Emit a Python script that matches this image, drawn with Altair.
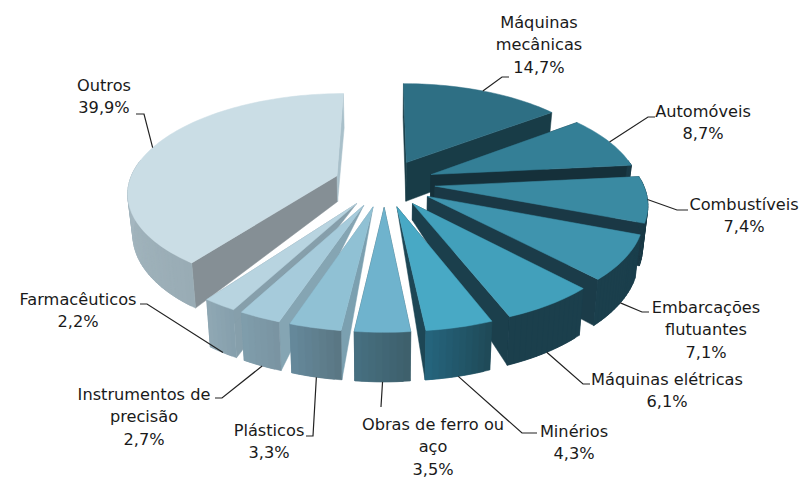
import math
import altair as alt
import pandas as pd

# ---- values ----
names = ["Máquinas mecânicas", "Automóveis", "Combustíveis", "Embarcações flutuantes",
         "Máquinas elétricas", "Minérios", "Obras de ferro ou aço", "Plásticos",
         "Instrumentos de precisão", "Farmacêuticos", "Outros"]
shares = [14.7, 8.7, 7.4, 7.1, 6.1, 4.3, 3.5, 3.3, 2.7, 2.2, 39.9]
pct_labels = ["14,7%", "8,7%", "7,4%", "7,1%", "6,1%", "4,3%", "3,5%", "3,3%", "2,7%", "2,2%", "39,9%"]
label_lines = [["Máquinas", "mecânicas"], ["Automóveis"], ["Combustíveis"], ["Embarcações", "flutuantes"],
               ["Máquinas elétricas"], ["Minérios"], ["Obras de ferro ou", "aço"], ["Plásticos"],
               ["Instrumentos de", "precisão"], ["Farmacêuticos"], ["Outros"]]

# ---- styles ----
top_colors = ["#2e6f84", "#347f96", "#3a8aa2", "#3f94ae", "#42a0bb", "#48a9c5",
              "#6fb3cd", "#90c1d4", "#a6cbdb", "#b8d4e0", "#cadde5"]
rim_start = ["#1b3f4c", "#1a3a46", "#1a3a46", "#1b3f4c", "#1b3f4c", "#1f4a58",
             "#3e606c", "#5a7784", "#7a94a2", "#86a0ad", "#99acb5"]
rim_end = ["#1b3f4c", "#1a3a46", "#1a3a46", "#1b3f4c", "#1b3f4c", "#25647c",
           "#466f80", "#65889a", "#7f9dab", "#8fa7b3", "#bccdd5"]
face_start = ["#183c47", "#15303a", "#1a3845", "#1b3c49", "#1b3f4c", "#1d4655",
              "#3e606c", "#7ba0b0", "#85a5b3", "#869fab", "#858f95"]
face_end = ["#183c47", "#15303a", "#1a3845", "#1b3c49", "#1b3f4c", "#1d4655",
            "#3e606c", "#7ba0b0", "#85a5b3", "#869fab", "#a9c0ca"]
tip_depth = [1, 1, 1, 1, 0.4, 0, 0, 0, 0, 0, 0.65]
leader_on_bottom = [0, 0, 0, 1, 1, 1, 1, 1, 1, 1, 0]

# ---- view of the exploded pie ----
CX, CY = 384.5, 183.0
RX, RY, DEPTH = 208.0, 97.0, 40.0
PERSP, EXPLODE, SHRINK = 0.155, 0.243, 0.02


def project(theta, r, mid, z):
    """Ground point at angle theta (deg, clockwise from top), radius r, exploded along mid."""
    a, m = math.radians(theta), math.radians(mid)
    u = r * math.sin(a) + EXPLODE * math.sin(m)
    t = -r * math.cos(a) - EXPLODE * math.cos(m)
    d = 1 - PERSP * t
    return (CX + RX * u / d * (1 - SHRINK * z), CY + RY * t / d + DEPTH / d * z)


def mix(c1, c2, f):
    a = [int(c1[i:i + 2], 16) for i in (1, 3, 5)]
    b = [int(c2[i:i + 2], 16) for i in (1, 3, 5)]
    return "#%02x%02x%02x" % tuple(round(p + (q - p) * f) for p, q in zip(a, b))


rows = []
pid = [0]


def poly(points, colour):
    pid[0] += 1
    for k, (x, y) in enumerate(points + points[:1]):
        rows.append({"x": x, "y": y, "id": pid[0], "k": k, "c": colour})


total = sum(shares)
spans = []
acc = 0.0
for s in shares:
    spans.append((acc * 360 / total, (acc + s) * 360 / total))
    acc += s

order = sorted(range(len(shares)), key=lambda i: -math.cos(math.radians(sum(spans[i]) / 2)))
for i in order:
    a0, a1 = spans[i]
    mid = (a0 + a1) / 2
    td = tip_depth[i]
    n = max(6, int((a1 - a0) / 1.5))
    angs = [a0 + (a1 - a0) * j / n for j in range(n + 1)]
    # radial faces
    for ang, col in ((a0, face_start[i]), (a1, face_end[i])):
        poly([project(ang, 0, mid, 0), project(ang, 1, mid, 0), project(ang, 1, mid, 1), project(ang, 0, mid, td)], col)
    # outer wall, in thin overlapping strips carrying the horizontal shading
    for j in range(n):
        p, q = angs[j], angs[min(j + 2, n)]
        if math.cos(math.radians((p + angs[j + 1]) / 2)) < 0.15:
            poly([project(p, 1, mid, 0), project(q, 1, mid, 0), project(q, 1, mid, 1), project(p, 1, mid, 1)],
                 mix(rim_start[i], rim_end[i], j / max(1, n - 1)))
    # top face
    poly([project(a0, 0, mid, 0)] + [project(x, 1, mid, 0) for x in angs], top_colors[i])

# ---- label layout: elbow of each leader, end of its short run, centre of its text ----
elbow_x = [502, 648, 677, 642, 583, 522, 381, 313, 222, 147, 144]
elbow_y = [77, 117, 210, 312, 384, 433, 407, 436, 398, 304, 114]
end_x = [509, 655, 688, 649, 590, 537, 381, 306, 215, 140, 136]
label_x = [539, 703, 744, 706, 667, 574, 433, 269, 144, 78, 104]
label_y = [22.5, 111.5, 204.5, 307.5, 379.5, 431.5, 424.5, 430.5, 394.5, 299.5, 85.5]
LINE_STEP = 22.8

leaders, texts = [], []
for i, (a0, a1) in enumerate(spans):
    mid = (a0 + a1) / 2
    sx, sy = project(mid, 1, mid, leader_on_bottom[i])
    for k, (x, y) in enumerate([(sx, sy), (elbow_x[i], elbow_y[i]), (end_x[i], elbow_y[i])]):
        leaders.append({"x": x, "y": y, "id": i, "k": k})
    for k, line in enumerate(label_lines[i] + [pct_labels[i]]):
        texts.append({"x": label_x[i], "y": label_y[i] + k * LINE_STEP, "t": line})

X = alt.X("x:Q", scale=alt.Scale(domain=[8, 799], nice=False, zero=False), axis=None)
Y = alt.Y("y:Q", scale=alt.Scale(domain=[478, 8], nice=False, zero=False), axis=None)

pie = alt.Chart(pd.DataFrame(rows)).mark_line(strokeWidth=0.5, clip=False, interpolate="linear").encode(
    x=X, y=Y, detail="id:N", order="k:Q",
    fill=alt.Fill("c:N", scale=None), stroke=alt.Stroke("c:N", scale=None),
)
lead = alt.Chart(pd.DataFrame(leaders)).mark_line(color="#222222", strokeWidth=1.2).encode(
    x=X, y=Y, detail="id:N", order="k:Q")
text = alt.Chart(pd.DataFrame(texts)).mark_text(
    font="DejaVu Sans", fontSize=16.2, color="#1a1a1a", baseline="middle", align="center"
).encode(x=X, y=Y, text="t:N")

chart = (pie + lead + text).properties(width=791, height=470, padding=0, background="white",
                                       autosize=alt.AutoSizeParams(type="none")
).configure_view(stroke=None)
chart.save("out.html", embed_options={"renderer": "svg", "actions": False})
